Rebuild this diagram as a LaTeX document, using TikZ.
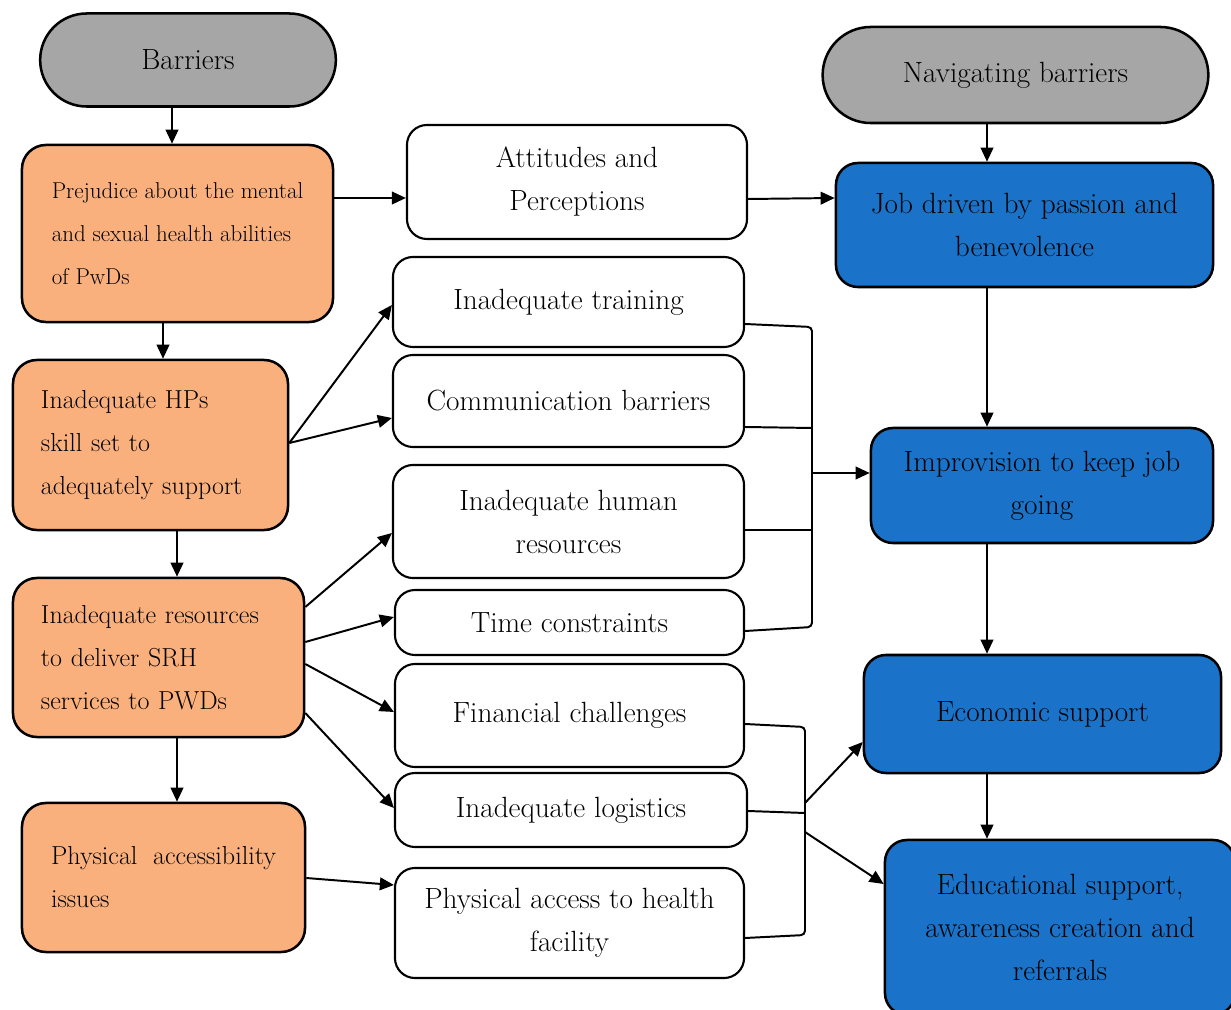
\documentclass[tikz,border=0pt]{standalone}
\usepackage{amsmath}
\usetikzlibrary{arrows.meta, positioning, shapes.misc}
\definecolor{barcol}{RGB}{250,176,125}
\definecolor{navcol}{RGB}{26,115,200}
\definecolor{headcol}{RGB}{166,166,166}

\begin{document}
\begin{tikzpicture}[x=0.025cm, y=-0.025cm, thick]

	\tikzstyle{head}=[rounded rectangle, fill=headcol, text=black, draw, line width=1.8pt, font=\fontsize{20.8}{30.6}\selectfont]
	\tikzstyle{barr}=[rectangle, rounded corners=0.6cm, fill=barcol, text=black, draw, line width=1.8pt, align=left, font=\fontsize{18.5}{30.6}\selectfont]
	\tikzstyle{theme}=[rectangle, rounded corners=0.5cm, fill=white, text=black, draw, line width=1.5pt, align=center, font=\fontsize{20.8}{30.6}\selectfont]
	\tikzstyle{navi}=[rectangle, rounded corners=0.55cm, fill=navcol, text=black, draw, line width=1.8pt, align=center, font=\fontsize{20.8}{30.6}\selectfont]
	\tikzstyle{arr}=[-{Triangle[length=10pt,width=9pt]}, line width=1.4pt]
	\tikzstyle{link}=[line width=1.4pt, rounded corners=3pt]

	\useasboundingbox (0,0) rectangle (1231,1010);

		% Barriers
		\node[head, minimum width=7.625cm, minimum height=2.325cm] (bar) at (188,60) {Barriers};
		\node[barr, font=\fontsize{16.3}{30.6}\selectfont, minimum width=7.775cm, minimum height=4.425cm] (pre) at (177.5,233.5) {Prejudice about the mental\\and sexual health abilities\\of PwDs};
		\node[barr, inner xsep=0.7cm, text width=5.475cm, minimum height=4.25cm] (hps) at (150.5,445) {Inadequate HPs\\skill set to\\adequately support};
		\node[barr, inner xsep=0.7cm, text width=5.875cm, minimum height=3.975cm] (res) at (158.5,657.5) {Inadequate resources\\to deliver SRH\\services to PWDs};
		\node[barr, minimum width=7.075cm, minimum height=3.725cm] (phy) at (163.5,877.5) {Physical\ \ accessibility\\issues};

		% Themes
		\node[theme, minimum width=8.5cm, minimum height=2.85cm] (att) at (577,182) {Attitudes and\\Perceptions};
		\node[theme, minimum width=8.775cm, minimum height=2.25cm] (trn) at (568.5,302) {Inadequate training};
		\node[theme, minimum width=8.775cm, minimum height=2.3cm] (com) at (568.5,401) {Communication barriers};
		\node[theme, minimum width=8.775cm, minimum height=2.825cm] (hum) at (568.5,521.5) {Inadequate human\\resources};
		\node[theme, minimum width=8.725cm, minimum height=1.625cm] (tim) at (569.5,622.5) {Time constraints};
		\node[theme, minimum width=8.725cm, minimum height=2.575cm] (fin) at (569.5,715.5) {Financial challenges};
		\node[theme, minimum width=8.8cm, minimum height=1.85cm] (lgs) at (571,810) {Inadequate logistics};
		\node[theme, minimum width=8.725cm, minimum height=2.75cm] (acc) at (569.5,923) {Physical access to health\\facility};

		% Navigating barriers
		\node[head, minimum width=9.875cm, minimum height=2.4cm] (nav) at (1015.5,75) {Navigating barriers};
		\node[navi, minimum width=9.425cm, minimum height=3.1cm] (job) at (1024.5,225) {Job driven by passion and\\benevolence};
		\node[navi, minimum width=8.55cm, minimum height=2.875cm] (imp) at (1042,485.5) {Improvision to keep job\\going};
		\node[navi, minimum width=8.925cm, minimum height=2.95cm] (eco) at (1042.5,714) {Economic support};
		\node[navi, minimum width=8.75cm, minimum height=4.375cm] (edu) at (1060,927.5) {Educational support,\\awareness creation and\\referrals};

		% Left chain
		\draw[arr] (bar.south -| 172,0) -- (pre.north -| 172,0);
		\draw[arr] (pre.south -| 163,0) -- (hps.north -| 163,0);
		\draw[arr] (hps.south -| 177,0) -- (res.north -| 177,0);
		\draw[arr] (res.south -| 177,0) -- (phy.north -| 177,0);

		% Barriers to themes
		\draw[arr] (pre.east |- 0,198) -- (att.west |- 0,198);
		\draw[arr] (hps.east |- 0,443) -- (trn.west |- 0,305);
		\draw[arr] (hps.east |- 0,443) -- (com.west |- 0,418);
		\draw[arr] (res.east |- 0,607) -- (hum.west |- 0,533);
		\draw[arr] (res.east |- 0,642) -- (tim.west |- 0,617);
		\draw[arr] (res.east |- 0,664) -- (fin.west |- 0,712);
		\draw[arr] (res.east |- 0,713) -- (lgs.west |- 0,808);
		\draw[arr] (phy.east |- 0,878) -- (acc.west |- 0,885);

		% Themes to navigating
		\draw[arr] (att.east |- 0,199) -- (job.west |- 0,198);
		\coordinate (k1) at (812,473);
		\coordinate (k2) at (805,818);
		\draw[link] (trn.east |- 0,324) -- (k1 |- 0,327) -- (k1 |- 0,627) -- (tim.east |- 0,631);
		\draw[link] (com.east |- 0,427) -- (k1 |- 0,428);
		\draw[link] (hum.east |- 0,530) -- (k1 |- 0,530);
		\draw[arr] (k1) -- (imp.west |- k1);
		\draw[link] (fin.east |- 0,724) -- (k2 |- 0,727) -- (k2 |- 0,935) -- (acc.east |- 0,938);
		\draw[link] (lgs.east |- 0,811) -- (k2 |- 0,813);
		\draw[arr] (k2 |- 0,803) -- (eco.west |- 0,742);
		\draw[arr] (k2 |- 0,832) -- (edu.west |- 0,884);

		% Right chain
		\draw[arr] (nav.south -| 987,0) -- (job.north -| 987,0);
		\draw[arr] (job.south -| 987,0) -- (imp.north -| 987,0);
		\draw[arr] (imp.south -| 987,0) -- (eco.north -| 987,0);
		\draw[arr] (eco.south -| 987,0) -- (edu.north -| 987,0);

		\end{tikzpicture}
\end{document}
